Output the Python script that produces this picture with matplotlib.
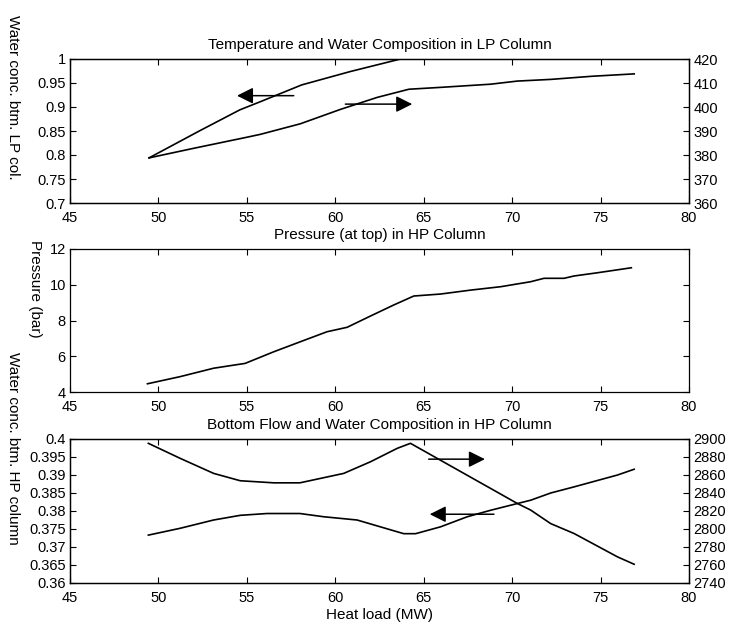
import matplotlib.pyplot as plt
from matplotlib.ticker import FuncFormatter

plt.rcParams['font.family'] = ['Liberation Sans', 'DejaVu Sans']
plt.rcParams['font.size'] = 11

# LP column: water conc. (left axis) and temperature (right axis)
x_lp_conc = [49.47, 52.36, 54.6, 55.76, 58.1, 60.86, 63.69]
lp_conc = [0.794, 0.851, 0.894, 0.911, 0.946, 0.974, 1.0]
x_lp_temp = [49.47, 52.0, 55.0, 55.76, 58.02, 60.29, 62.37, 64.16,
             66.0, 68.78, 70.29, 72.18, 74.5, 76.9]
lp_temp = [378.8, 382.8, 387.4, 388.6, 393.0, 399.0, 404.0, 407.4,
           408.2, 409.5, 410.8, 411.5, 412.8, 413.8]

# HP column top pressure
x_p = [49.38, 51.23, 53.12, 54.9, 56.52, 58.02, 59.53, 60.67, 61.99, 63.31,
       64.44, 65.95, 67.65, 69.35, 71.05, 71.8, 72.93, 73.5, 74.82, 76.74]
p = [4.46, 4.86, 5.33, 5.6, 6.25, 6.81, 7.37, 7.62, 8.25, 8.87,
     9.37, 9.48, 9.7, 9.89, 10.17, 10.36, 10.36, 10.49, 10.67, 10.95]

# HP column: water conc. (left axis) and bottom flow (right axis)
x_hp_conc = [49.43, 51.23, 53.12, 54.63, 56.14, 58.0, 59.35, 61.23, 62.55,
             63.87, 64.54, 65.95, 67.46, 68.78, 69.91, 71.05, 72.18, 73.5,
             75.96, 76.9]
hp_conc = [0.3733, 0.3752, 0.3775, 0.3788, 0.3793, 0.3793, 0.3784, 0.3775,
           0.3756, 0.3737, 0.3737, 0.3756, 0.3784, 0.3802, 0.3816, 0.383,
           0.385, 0.3867, 0.390, 0.3916]
x_hp_flow = [49.43, 51.23, 53.12, 54.63, 56.52, 58.0, 60.48, 61.99, 63.5,
             64.25, 70.29, 71.05, 72.18, 73.5, 75.96, 76.9]
hp_flow = [2895.2, 2878.5, 2861.8, 2853.6, 2851.3, 2851.3, 2861.8, 2874.7,
           2889.6, 2895.2, 2828.4, 2821.0, 2806.0, 2795.0, 2769.0, 2760.8]

xticks = [45, 50, 55, 60, 65, 70, 75, 80]
fmt = FuncFormatter(lambda v, pos: '%g' % round(v, 4))

fig = plt.figure(figsize=(7.29, 6.26), dpi=100)
left, width = 70 / 729, 619 / 729
ax1 = fig.add_axes([left, 1 - 203 / 626, width, 144 / 626])
ax2 = fig.add_axes([left, 1 - 392 / 626, width, 143 / 626])
ax3 = fig.add_axes([left, 1 - 583 / 626, width, 144 / 626])
ax1r = ax1.twinx()
ax3r = ax3.twinx()


def style(ax, right_ticks=True):
    ax.set_xlim(45, 80)
    ax.set_xticks(xticks)
    ax.tick_params(direction='in', length=4, width=0.8, top=True,
                   right=right_ticks, labelsize=10.5, pad=3)
    ax.tick_params(axis='x', pad=6)
    ax.yaxis.set_major_formatter(fmt)
    for s in ax.spines.values():
        s.set_linewidth(0.9)


def arrow(ax, x0, x1, y):
    ax.annotate('', xy=(x1, y), xytext=(x0, y),
                arrowprops=dict(arrowstyle='-|>,head_length=0.7,head_width=0.35',
                                color='k', lw=1.1, mutation_scale=14,
                                shrinkA=0, shrinkB=0))


# top panel
ax1.plot(x_lp_conc, lp_conc, color='k', lw=1.2)
ax1r.plot(x_lp_temp, lp_temp, color='k', lw=1.2)
ax1.set_ylim(0.7, 1.0)
ax1.set_yticks([0.7, 0.75, 0.8, 0.85, 0.9, 0.95, 1.0])
ax1r.set_ylim(360, 420)
ax1r.set_yticks(range(360, 421, 10))
style(ax1, right_ticks=False)
style(ax1r)
ax1r.tick_params(left=False)
ax1.set_title('Temperature and Water Composition in LP Column', fontsize=11, pad=7)
arrow(ax1, 57.65, 54.44, 0.9236)
arrow(ax1, 60.57, 64.35, 0.906)

# middle panel
ax2.plot(x_p, p, color='k', lw=1.2)
ax2.set_ylim(4, 12)
ax2.set_yticks([4, 6, 8, 10, 12])
style(ax2)
ax2.set_title('Pressure (at top) in HP Column', fontsize=11, pad=7)

# bottom panel
ax3.plot(x_hp_conc, hp_conc, color='k', lw=1.2)
ax3r.plot(x_hp_flow, hp_flow, color='k', lw=1.2)
ax3.set_ylim(0.36, 0.4)
ax3.set_yticks([0.36, 0.365, 0.37, 0.375, 0.38, 0.385, 0.39, 0.395, 0.4])
ax3r.set_ylim(2740, 2900)
ax3r.set_yticks(range(2740, 2901, 20))
style(ax3, right_ticks=False)
style(ax3r)
ax3r.tick_params(left=False)
ax3.set_title('Bottom Flow and Water Composition in HP Column', fontsize=11, pad=7)
ax3.set_xlabel('Heat load (MW)', fontsize=11, labelpad=2)
arrow(ax3, 65.28, 68.46, 0.3944)
arrow(ax3, 68.97, 65.34, 0.3791)

# rotated y labels (read top to bottom)
fig.text(13 / 729, 1 - 97 / 626, 'Water conc. btm. LP col.', rotation=270,
         ha='center', va='center', fontsize=11)
fig.text(35 / 729, 1 - 289 / 626, 'Pressure (bar)', rotation=270,
         ha='center', va='center', fontsize=11)
fig.text(13 / 729, 1 - 448 / 626, 'Water conc. btm. HP column', rotation=270,
         ha='center', va='center', fontsize=11)

fig.savefig('out.png', dpi=100)
